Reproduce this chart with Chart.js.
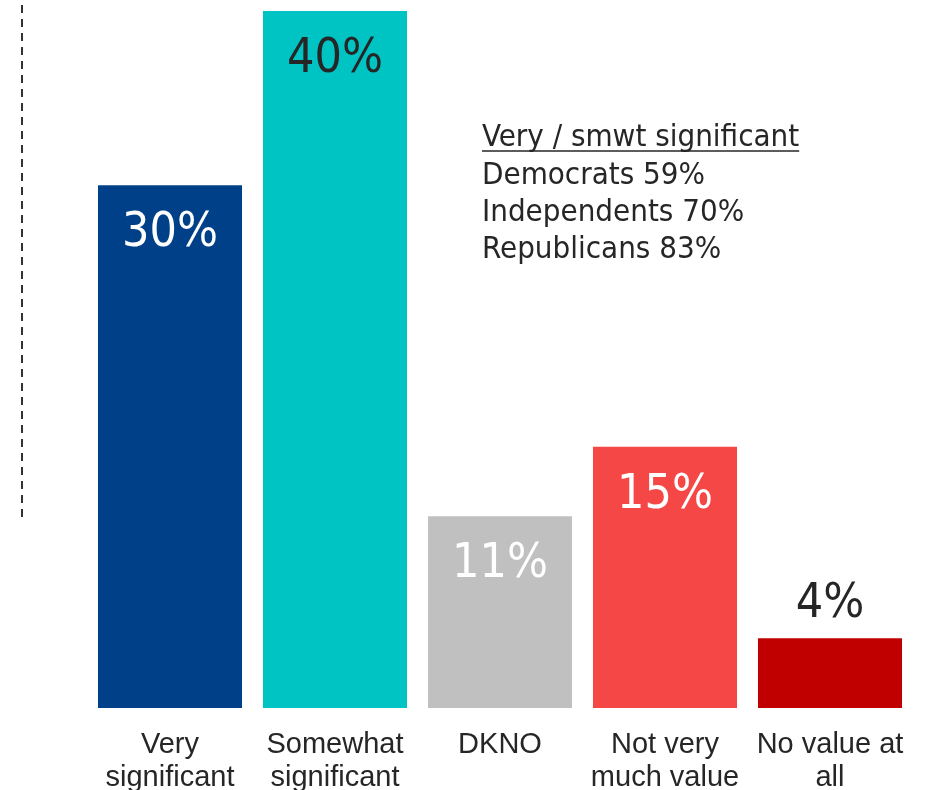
<!DOCTYPE html>
<html>
<head>
<meta charset="utf-8">
<script src="https://cdn.jsdelivr.net/npm/chart.js@4"></script>
<style>
  html, body { margin: 0; padding: 0; background: #ffffff; }
  #wrap { width: 930px; height: 790px; position: relative; }
</style>
</head>
<body>
<div id="wrap"><canvas id="c"></canvas></div>
<script>
const categories = [["Very", "significant"], ["Somewhat", "significant"], ["DKNO"], ["Not very", "much value"], ["No value at", "all"]];
const values = [30, 40, 11, 15, 4];
const valueLabels = ["30%", "40%", "11%", "15%", "4%"];
const barColors = ["#004088", "#00C3C3", "#C0C0C0", "#F64747", "#C00000"];
const labelColors = ["#FFFFFF", "#262626", "#FFFFFF", "#FFFFFF", "#262626"];
const labelInside = [true, true, true, true, false];
const noteTitle = "Very / smwt significant";
const noteLines = ["Democrats 59%", "Independents 70%", "Republicans 83%"];

const valueFont = '48px "DejaVu Sans Condensed", "DejaVu Sans", sans-serif';
const noteFont = '31px "DejaVu Sans Condensed", "DejaVu Sans", sans-serif';

const extras = {
  id: 'extras',
  afterDatasetsDraw(chart) {
    const ctx = chart.ctx;
    const meta = chart.getDatasetMeta(0);
    ctx.save();
    ctx.font = valueFont;
    ctx.textAlign = 'center';
    ctx.textBaseline = 'alphabetic';
    meta.data.forEach((bar, i) => {
      ctx.fillStyle = labelColors[i];
      const y = labelInside[i] ? bar.y + 61 : bar.y - 21;
      ctx.fillText(valueLabels[i], bar.x, y);
    });
    ctx.restore();
  },
  afterDraw(chart) {
    const ctx = chart.ctx;
    ctx.save();
    // dashed vertical rule
    ctx.strokeStyle = '#333333';
    ctx.lineWidth = 2;
    ctx.setLineDash([8, 6]);
    ctx.beginPath();
    ctx.moveTo(22, 5);
    ctx.lineTo(22, 518);
    ctx.stroke();
    ctx.setLineDash([]);
    // note text
    ctx.font = noteFont;
    ctx.fillStyle = '#262626';
    ctx.textAlign = 'left';
    ctx.textBaseline = 'alphabetic';
    const x0 = 482;
    ctx.fillText(noteTitle, x0, 146);
    const w = ctx.measureText(noteTitle).width;
    ctx.strokeStyle = '#262626';
    ctx.lineWidth = 1.6;
    ctx.beginPath();
    ctx.moveTo(x0, 151);
    ctx.lineTo(x0 + w, 151);
    ctx.stroke();
    noteLines.forEach((t, i) => ctx.fillText(t, x0, 184 + i * 37));
    ctx.restore();
  }
};

new Chart(document.getElementById('c'), {
  type: 'bar',
  data: {
    labels: categories,
    datasets: [{
      data: values,
      backgroundColor: barColors,
      borderWidth: 0,
      categoryPercentage: 1.0,
      barPercentage: 0.873
    }]
  },
  options: {
    responsive: true,
    maintainAspectRatio: false,
    animation: false,
    layout: { padding: { left: 87.5, right: 17.5, top: 11, bottom: 0 } },
    plugins: { legend: { display: false }, tooltip: { enabled: false } },
    scales: {
      x: {
        grid: { display: false, drawTicks: false },
        border: { display: false },
        ticks: {
          color: '#262626',
          font: { family: '"Liberation Sans", Arial, sans-serif', size: 29, lineHeight: 1.16 },
          padding: 20,
          maxRotation: 0,
          autoSkip: false
        },
        afterFit(axis) { axis.height = 82; }
      },
      y: {
        display: false,
        min: 0,
        max: 40
      }
    }
  },
  plugins: [extras]
});
</script>
</body>
</html>
